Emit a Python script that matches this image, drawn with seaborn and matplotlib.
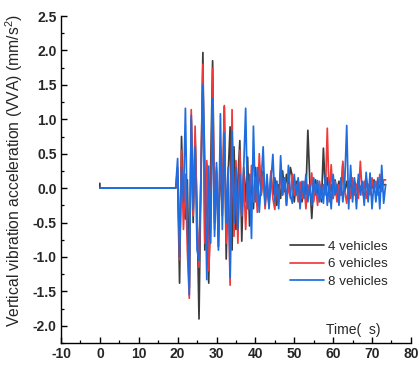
import numpy as np
import pandas as pd
import matplotlib
matplotlib.use("Agg")
import matplotlib.pyplot as plt
import seaborn as sns
from matplotlib.ticker import MultipleLocator

# ---- data ----
series_names = ["4 vehicles", "6 vehicles", "8 vehicles"]

# quiet part before the vehicles arrive
t_quiet = [0.0, 0.0, 0.2, 19.0]
v4_quiet = [0.07, 0.0, 0.0, 0.0]
v6_quiet = [0.0, 0.0, 0.0, 0.0]
v8_quiet = [0.0, 0.0, 0.0, 0.0]

# sampling grid of the vibration record (s)
t_start, t_step, t_end = 19.5, 0.5, 73.5

v4 = [
    0.0, 0.15, -1.38, 0.75, -0.3, -0.45, 0.12, -1.45, 1.0, -0.5,
    0.75, -0.3, -1.9, 0.2, 1.97, -0.9, 0.35, -1.38, 0.3, 1.85,
    -0.5, 0.25, -0.85, 0.5, -0.4, 1.18, -1.03, 0.2, 0.89, -0.9,
    0.6, -0.6, 0.1, 0.69, -0.77, 0.3, -0.2, 0.45, -0.55, 0.2,
    -0.3, 0.3, -0.25, 0.35, -0.1, 0.25, -0.2, 0.05, -0.25, 0.2,
    -0.1, 0.15, -0.25, 0.05, -0.15, 0.25, -0.05, 0.2, 0.0, 0.3,
    0.17, -0.2, 0.1, -0.15, 0.05, -0.2, 0.05, -0.1, 0.84, 0.1,
    -0.44, 0.05, 0.12, -0.1, 0.05, -0.2, 0.58, -0.05, 0.15, -0.1,
    0.05, -0.15, 0.12, -0.05, 0.1, -0.1, 0.35, -0.05, 0.1, -0.1,
    0.08, -0.05, 0.1, 0.0, 0.12, -0.05, 0.08, 0.02, 0.15, -0.05,
    0.1, 0.0, 0.12, 0.02, 0.1, 0.0, 0.1, 0.05, 0.05,
]
v6 = [
    0.0, 0.3, -1.04, 0.55, -0.6, 0.2, -0.9, -1.6, 1.14, -0.4,
    0.9, -0.5, -1.15, 0.2, 1.8, -0.8, 0.4, -1.2, -0.55, 1.74,
    -0.6, 0.3, -0.7, 0.6, -0.3, 1.2, -0.8, 0.1, -1.41, 1.14,
    -0.7, 0.4, -0.8, 0.55, -0.4, 0.2, -0.6, 0.1, -0.3, 0.33,
    -0.2, 0.15, -0.35, 0.5, -0.1, 0.2, -0.3, 0.1, -0.2, 0.25,
    -0.15, -0.31, 0.1, -0.2, 0.25, -0.1, 0.15, -0.25, 0.05, -0.15,
    0.2, -0.1, 0.05, -0.2, 0.09, -0.15, 0.1, -0.3, 0.05, -0.1,
    0.22, -0.2, 0.05, -0.25, 0.1, -0.15, 0.05, -0.1, 0.87, -0.2,
    0.34, -0.15, 0.1, -0.2, 0.05, -0.1, 0.39, -0.05, -0.22, 0.1,
    -0.15, 0.15, -0.1, 0.05, -0.15, 0.39, -0.1, 0.1, -0.15, 0.05,
    -0.1, 0.15, -0.05, 0.1, -0.1, 0.2, -0.05, 0.12, 0.12,
]
v8 = [
    0.0, 0.43, -1.0, 0.3, -0.2, 1.16, -0.51, -1.55, 1.06, -0.3,
    0.6, -0.9, -1.05, 0.1, 1.5, 0.43, -1.33, 0.32, -0.8, 1.3,
    -0.7, 0.37, -0.9, 1.08, -0.6, 0.8, -0.5, 0.3, -1.3, 0.83,
    -0.5, 0.3, -0.6, 0.2, -0.4, 0.3, 1.16, -0.3, 0.2, -0.73,
    0.9, -0.2, 0.3, -0.35, 0.1, 0.6, -0.25, 0.2, -0.3, 0.1,
    0.49, -0.2, 0.1, -0.3, 0.47, -0.1, 0.15, -0.25, 0.33, -0.1,
    -0.22, 0.2, -0.1, 0.15, -0.3, 0.1, -0.15, 0.2, -0.2, 0.05,
    -0.25, 0.15, -0.1, 0.11, -0.2, 0.05, -0.22, 0.2, -0.25, 0.1,
    -0.3, 0.2, -0.1, 0.05, -0.25, 0.15, -0.2, 0.1, 0.91, -0.3,
    0.33, -0.2, 0.15, -0.3, 0.2, -0.1, 0.1, -0.25, 0.23, -0.2,
    0.22, -0.3, 0.1, -0.2, 0.15, -0.3, 0.33, -0.22, 0.05,
]

x_ticks = [-10, 0, 10, 20, 30, 40, 50, 60, 70, 80]
y_ticks = [-2.0, -1.5, -1.0, -0.5, 0.0, 0.5, 1.0, 1.5, 2.0, 2.5]

# ---- build long-form table ----
t_grid = np.arange(t_start, t_end + t_step / 2, t_step)
frames = []
for name, quiet, vals in zip(series_names, [v4_quiet, v6_quiet, v8_quiet], [v4, v6, v8]):
    t = list(t_quiet) + list(t_grid[: len(vals)])
    v = list(quiet) + list(vals)
    frames.append(pd.DataFrame({"t": t, "v": v, "series": name}))
df = pd.concat(frames, ignore_index=True)

# ---- style ----
sns.set_style("ticks")
plt.rcParams["font.family"] = ["Liberation Sans", "Noto Sans CJK SC", "DejaVu Sans"]
plt.rcParams["axes.unicode_minus"] = False
plt.rcParams["mathtext.fontset"] = "custom"
plt.rcParams["mathtext.rm"] = "Liberation Sans"
plt.rcParams["mathtext.it"] = "Liberation Sans"

palette = {"4 vehicles": "#3c3c3c", "6 vehicles": "#f03a3a", "8 vehicles": "#1d6de0"}

fig = plt.figure(figsize=(4.19, 3.65), dpi=100)
ax = fig.add_axes([0.1456, 0.0603, 0.835, 0.8957])

sns.lineplot(data=df, x="t", y="v", hue="series", hue_order=series_names,
             palette=palette, sort=False, estimator=None, units="series",
             linewidth=1.25, ax=ax)

ax.set_xlim(-10, 80)
ax.set_ylim(-2.25, 2.5)
ax.set_xticks(x_ticks)
ax.set_yticks(y_ticks)
ax.xaxis.set_minor_locator(MultipleLocator(5))
ax.yaxis.set_minor_locator(MultipleLocator(0.25))
ax.set_xticklabels([f"{v}" for v in x_ticks], fontweight="bold", fontsize=10)
ax.set_yticklabels([f"{v:.1f}" for v in y_ticks], fontweight="bold", fontsize=10)
ax.tick_params(which="major", direction="in", length=4, width=1, color="black", pad=3)
ax.tick_params(which="minor", direction="in", length=2.5, width=0.9, color="black")

for s in ["top", "right"]:
    ax.spines[s].set_visible(False)
for s in ["left", "bottom"]:
    ax.spines[s].set_linewidth(1.0)
    ax.spines[s].set_color("black")

ax.set_xlabel("")
ax.set_ylabel("Vertical vibration acceleration (VVA) (mm/s$^2$)", fontsize=11.3)
ax.yaxis.set_label_coords(-0.103, 0.528)

ax.text(0.835, 0.04, "Time(  s)", transform=ax.transAxes, ha="center", va="center",
        fontsize=10)

leg = ax.legend(loc="upper left", bbox_to_anchor=(0.654, 0.313), frameon=False,
                fontsize=9.6, handlelength=2.6, handletextpad=0.3, labelspacing=0.38,
                borderpad=0, borderaxespad=0)
for line in leg.get_lines():
    line.set_linewidth(1.25)

fig.savefig("out.png", dpi=100)
